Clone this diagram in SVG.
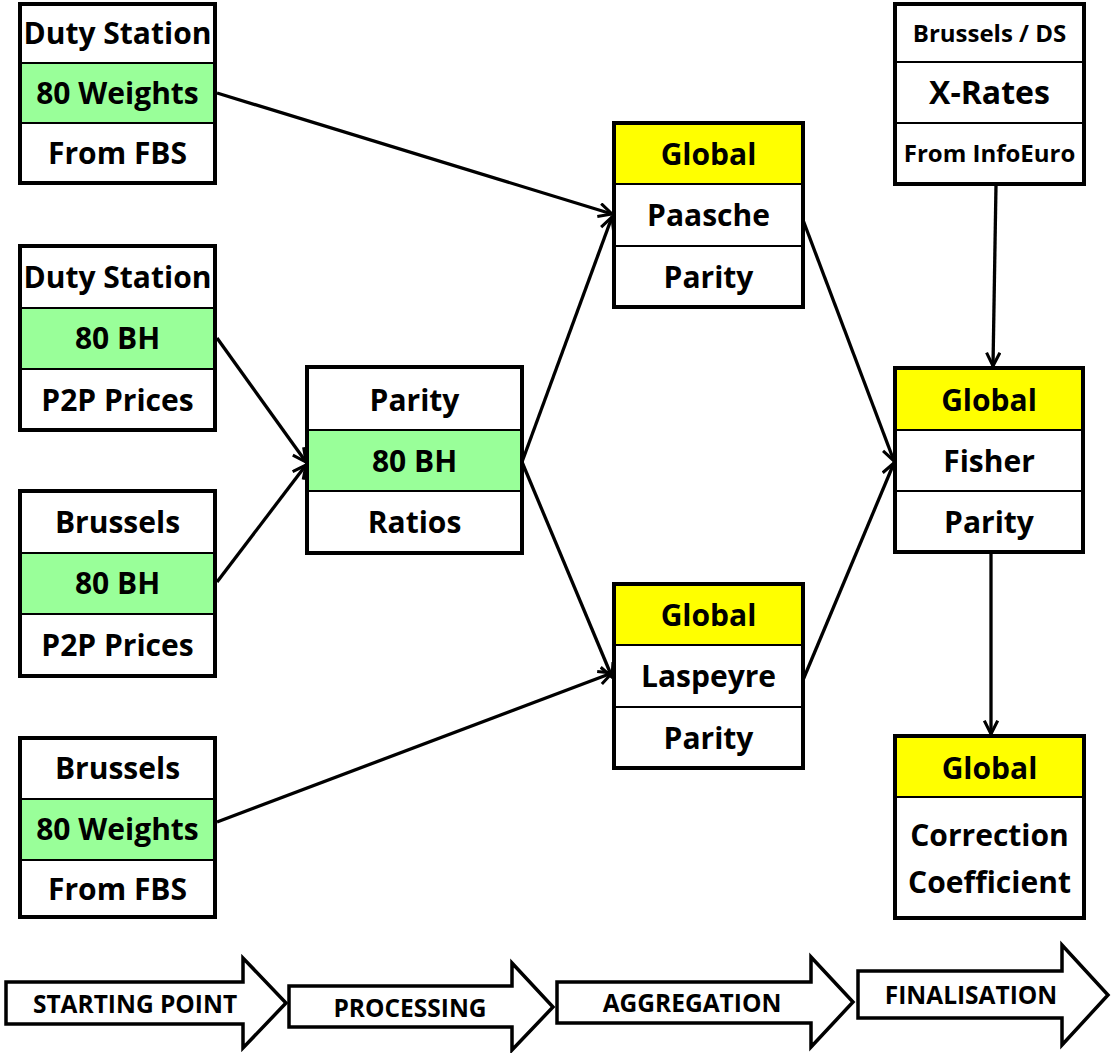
<svg xmlns="http://www.w3.org/2000/svg" width="1112" height="1053" viewBox="0 0 1112 1053">
<defs>
<style>
.box{fill:none;stroke:#000;stroke-width:4}
.div{stroke:#000;stroke-width:2}
.g{fill:#99FF99}
.y{fill:#FFFF00}
.w{fill:#FFFFFF}
.t{font-family:"Open Sans","Liberation Sans",sans-serif;font-weight:700;font-size:30px;fill:#000;text-anchor:middle}
.ts{font-size:24px}
.tx{font-size:32px}
.conn{stroke:#000;stroke-width:3.3;fill:none;marker-end:url(#ah)}
.stage{fill:#fff;stroke:#000;stroke-width:3.5;stroke-linejoin:miter}
.st{font-family:"Open Sans","Liberation Sans",sans-serif;font-weight:700;font-size:24.5px;fill:#000;text-anchor:middle}
</style>
<marker id="ah" viewBox="0 0 12 12" refX="11" refY="6" markerUnits="userSpaceOnUse" markerWidth="16" markerHeight="16" orient="auto">
<path d="M1,1 L11,6 L1,11" fill="none" stroke="#000" stroke-width="2.3" stroke-linejoin="miter"/>
</marker>
</defs>
<rect width="1112" height="1053" fill="#fff"/>

<g id="connectors">
<line class="conn" x1="217" y1="93" x2="612" y2="214"/>
<line class="conn" x1="217" y1="338" x2="306" y2="462"/>
<line class="conn" x1="217" y1="582" x2="306" y2="465"/>
<line class="conn" x1="522" y1="462" x2="612" y2="217"/>
<line class="conn" x1="522" y1="462" x2="612" y2="677"/>
<line class="conn" x1="217" y1="822" x2="612" y2="673"/>
<line class="conn" x1="803" y1="220" x2="894" y2="461"/>
<line class="conn" x1="803" y1="680" x2="894" y2="463"/>
<line class="conn" x1="996" y1="185" x2="993" y2="366"/>
<line class="conn" x1="991" y1="553" x2="991" y2="734"/>
</g>

<g id="ds-weights">
<rect class="w" x="20" y="4" width="195" height="179"/>
<rect class="g" x="20" y="63" width="195" height="60"/>
<line class="div" x1="20" y1="63" x2="215" y2="63"/>
<line class="div" x1="20" y1="123" x2="215" y2="123"/>
<rect class="box" x="20" y="4" width="195" height="179"/>
<text class="t" x="117.5" y="44">Duty Station</text>
<text class="t" x="117.5" y="104">80 Weights</text>
<text class="t" x="117.5" y="164">From FBS</text>
</g>

<g id="ds-prices">
<rect class="w" x="20" y="246" width="195" height="184"/>
<rect class="g" x="20" y="308" width="195" height="61"/>
<line class="div" x1="20" y1="308" x2="215" y2="308"/>
<line class="div" x1="20" y1="369" x2="215" y2="369"/>
<rect class="box" x="20" y="246" width="195" height="184"/>
<text class="t" x="117.5" y="288">Duty Station</text>
<text class="t" x="117.5" y="349">80 BH</text>
<text class="t" x="117.5" y="411">P2P Prices</text>
</g>

<g id="bxl-prices">
<rect class="w" x="20" y="491" width="195" height="185"/>
<rect class="g" x="20" y="553" width="195" height="61"/>
<line class="div" x1="20" y1="553" x2="215" y2="553"/>
<line class="div" x1="20" y1="614" x2="215" y2="614"/>
<rect class="box" x="20" y="491" width="195" height="185"/>
<text class="t" x="117.5" y="533">Brussels</text>
<text class="t" x="117.5" y="594">80 BH</text>
<text class="t" x="117.5" y="656">P2P Prices</text>
</g>

<g id="bxl-weights">
<rect class="w" x="20" y="738" width="195" height="179"/>
<rect class="g" x="20" y="799" width="195" height="61"/>
<line class="div" x1="20" y1="799" x2="215" y2="799"/>
<line class="div" x1="20" y1="860" x2="215" y2="860"/>
<rect class="box" x="20" y="738" width="195" height="179"/>
<text class="t" x="117.5" y="779">Brussels</text>
<text class="t" x="117.5" y="840">80 Weights</text>
<text class="t" x="117.5" y="900">From FBS</text>
</g>

<g id="parity-ratios">
<rect class="w" x="307" y="367" width="215" height="186"/>
<rect class="g" x="307" y="430" width="215" height="61"/>
<line class="div" x1="307" y1="430" x2="522" y2="430"/>
<line class="div" x1="307" y1="491" x2="522" y2="491"/>
<rect class="box" x="307" y="367" width="215" height="186"/>
<text class="t" x="414.5" y="411">Parity</text>
<text class="t" x="414.5" y="472">80 BH</text>
<text class="t" x="414.5" y="533">Ratios</text>
</g>

<g id="paasche">
<rect class="w" x="614" y="123" width="189" height="184"/>
<rect class="y" x="614" y="123" width="189" height="61"/>
<line class="div" x1="614" y1="184" x2="803" y2="184"/>
<line class="div" x1="614" y1="246" x2="803" y2="246"/>
<rect class="box" x="614" y="123" width="189" height="184"/>
<text class="t" x="708.5" y="165">Global</text>
<text class="t" x="708.5" y="226">Paasche</text>
<text class="t" x="708.5" y="288">Parity</text>
</g>

<g id="laspeyre">
<rect class="w" x="614" y="584" width="189" height="184"/>
<rect class="y" x="614" y="584" width="189" height="61"/>
<line class="div" x1="614" y1="645" x2="803" y2="645"/>
<line class="div" x1="614" y1="707" x2="803" y2="707"/>
<rect class="box" x="614" y="584" width="189" height="184"/>
<text class="t" x="708.5" y="626">Global</text>
<text class="t" x="708.5" y="687">Laspeyre</text>
<text class="t" x="708.5" y="749">Parity</text>
</g>

<g id="xrates">
<rect class="w" x="895" y="4" width="189" height="180"/>
<line class="div" x1="895" y1="62" x2="1084" y2="62"/>
<line class="div" x1="895" y1="123" x2="1084" y2="123"/>
<rect class="box" x="895" y="4" width="189" height="180"/>
<text class="t ts" x="989.5" y="42">Brussels / DS</text>
<text class="t tx" x="989.5" y="104">X-Rates</text>
<text class="t ts" x="989.5" y="162">From InfoEuro</text>
</g>

<g id="fisher">
<rect class="w" x="895" y="368" width="188" height="184"/>
<rect class="y" x="895" y="368" width="188" height="62"/>
<line class="div" x1="895" y1="430" x2="1083" y2="430"/>
<line class="div" x1="895" y1="491" x2="1083" y2="491"/>
<rect class="box" x="895" y="368" width="188" height="184"/>
<text class="t" x="989" y="411">Global</text>
<text class="t" x="989" y="472">Fisher</text>
<text class="t" x="989" y="533">Parity</text>
</g>

<g id="correction">
<rect class="w" x="895" y="736" width="189" height="182"/>
<rect class="y" x="895" y="736" width="189" height="61"/>
<line class="div" x1="895" y1="797" x2="1084" y2="797"/>
<rect class="box" x="895" y="736" width="189" height="182"/>
<text class="t" x="989.5" y="779">Global</text>
<text class="t" x="989.5" y="846">Correction</text>
<text class="t" x="989.5" y="893">Coefficient</text>
</g>

<g id="stages">
<path class="stage" d="M6,982 H243 V958 L286,1003 L243,1048 V1024 H6 Z"/>
<text class="st" x="135" y="1013">STARTING POINT</text>
<path class="stage" d="M289,986 H512 V963 L553,1007 L512,1050 V1027 H289 Z"/>
<text class="st" x="410" y="1017">PROCESSING</text>
<path class="stage" d="M557,982 H811 V957 L853,1002 L811,1047 V1023 H557 Z"/>
<text class="st" x="692" y="1012">AGGREGATION</text>
<path class="stage" d="M858,971 H1062 V945 L1108,995 L1062,1045 V1018 H858 Z"/>
<text class="st" x="971" y="1004">FINALISATION</text>
</g>
</svg>
